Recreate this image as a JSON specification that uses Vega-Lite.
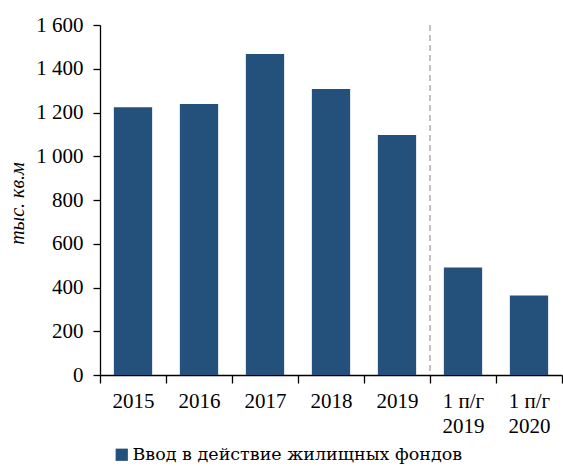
{
  "$schema": "https://vega.github.io/schema/vega-lite/v6.json",
  "width": 462,
  "height": 350,
  "autosize": {"type": "none"},
  "padding": {"left": 100, "top": 25, "right": 1, "bottom": 91},
  "background": "white",
  "config": {
    "view": {"stroke": null},
    "font": "Liberation Serif",
    "axis": {"labelFont": "Liberation Serif", "titleFont": "Liberation Serif", "labelColor": "#000", "titleColor": "#000", "domainColor": "#000", "tickColor": "#000", "grid": false}
  },
  "datasets": {
    "bars": [
      {"period": "2015", "value": 1224, "series": "Ввод в действие жилищных фондов"},
      {"period": "2016", "value": 1239, "series": "Ввод в действие жилищных фондов"},
      {"period": "2017", "value": 1467, "series": "Ввод в действие жилищных фондов"},
      {"period": "2018", "value": 1307, "series": "Ввод в действие жилищных фондов"},
      {"period": "2019", "value": 1097, "series": "Ввод в действие жилищных фондов"},
      {"period": "1 п/г 2019", "value": 492, "series": "Ввод в действие жилищных фондов"},
      {"period": "1 п/г 2020", "value": 364, "series": "Ввод в действие жилищных фондов"}
    ]
  },
  "layer": [
    {
      "data": {"name": "bars"},
      "mark": {"type": "bar", "width": {"band": 0.58}},
      "encoding": {
        "x": {
          "field": "period", "type": "nominal", "sort": null,
          "scale": {"domain": ["2015", "2016", "2017", "2018", "2019", "1 п/г 2019", "1 п/г 2020"], "paddingInner": 0, "paddingOuter": 0},
          "axis": {
            "title": null, "labelAngle": 0, "labelFontSize": 21, "tickBand": "extent",
            "tickSize": 8, "labelPadding": 7, "domainWidth": 1.3, "tickWidth": 1.3,
            "labelLineHeight": 25,
            "labelExpr": "length(datum.label) > 4 ? [slice(datum.label, 0, 5), slice(datum.label, 6)] : datum.label"
          }
        },
        "y": {
          "field": "value", "type": "quantitative",
          "scale": {"domain": [0, 1600]},
          "axis": {
            "title": "тыс. кв.м", "titleFontStyle": "italic", "titleFontWeight": "normal", "titleFontSize": 20,
            "titleAngle": 270, "titleX": -83, "titleY": 178, "titleAlign": "center", "titleBaseline": "middle",
            "values": [0, 200, 400, 600, 800, 1000, 1200, 1400, 1600],
            "labelFontSize": 21, "tickSize": 7, "labelPadding": 10, "domainWidth": 1.3, "tickWidth": 1.3,
            "labelExpr": "replace(format(datum.value, ','), ',', ' ')"
          }
        },
        "color": {
          "field": "series", "type": "nominal",
          "scale": {"range": ["#24507c"]},
          "legend": {
            "title": null, "orient": "none", "legendX": 13, "legendY": 421,
            "symbolType": "square", "symbolSize": 150, "symbolStrokeWidth": 0,
            "labelFont": "DejaVu Serif", "labelFontSize": 17.5, "labelColor": "#000", "labelLimit": 500, "labelOffset": 2
          }
        }
      }
    },
    {
      "data": {"values": [{"period": "1 п/г 2019"}]},
      "mark": {"type": "rule", "color": "#999999", "strokeDash": [6, 4], "strokeWidth": 1.2},
      "encoding": {
        "x": {"field": "period", "type": "nominal", "bandPosition": 0}
      }
    }
  ]
}
